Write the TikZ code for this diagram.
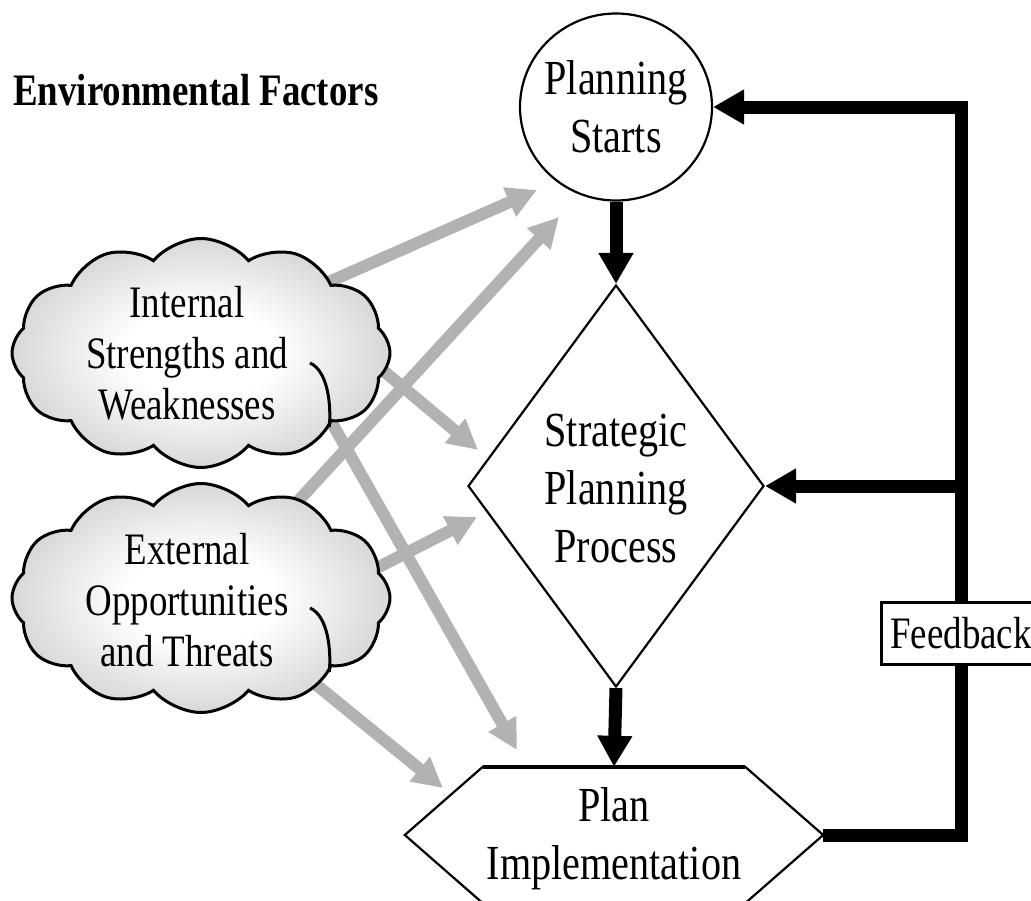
\documentclass[tikz,border=0pt]{standalone}
\usepackage{fontspec}
\setmainfont{Liberation Serif}[FakeStretch=0.82]
\usetikzlibrary{shapes.geometric,shapes.symbols,arrows.meta,calc}
\pgfdeclareradialshading{cloudsh}{\pgfpoint{0bp}{0bp}}{color(0bp)=(white); color(10bp)=(white); color(45bp)=(black!36); color(100bp)=(black!36)}
\pgfdeclarelayer{bg}
\pgfsetlayers{bg,main}
\begin{document}
\begin{tikzpicture}[x=1pt,y=-1pt,
  maintext/.style={font=\fontsize{49}{58}\selectfont, align=center, inner sep=0pt},
  thinline/.style={line width=2.2pt},
  heavy/.style={line width=13pt, -{Triangle[length=31pt,width=33pt]}},
  soft/.style={line width=12pt, color=black!30, -{Triangle[length=30pt,width=30pt]}, shorten <=-14pt},
  cloudbox/.style={cloud, cloud puffs=12, cloud puff arc=100, aspect=1.65, draw, line width=3pt, shading=cloudsh, minimum width=378pt, minimum height=229pt, inner sep=0pt},
  cloudtext/.style={font=\fontsize{45}{51}\selectfont, align=center, inner sep=0pt},
  puffline/.style={line width=3pt}
]
\useasboundingbox (0,0) rectangle (1031,900);
\clip (0,0) rectangle (1031,900);

% title
\node[anchor=base west, font=\bfseries\fontsize{45}{50}\selectfont, inner sep=0pt] (env) at (13,105) {Environmental Factors};

% clouds
\node[cloudbox] (intc) at (201,353) {};
\node[cloudtext] (intt) at (187,353) {Internal\\Strengths and\\Weaknesses};
\node[cloudbox] (extc) at (201,598) {};
\node[cloudtext] (extt) at (187,600) {External\\Opportunities\\and Threats};
\draw[puffline] ($(intc.center)+(109,10)$) .. controls +(18,8) and +(2,-22) .. (intc.-30);
\draw[puffline] ($(extc.center)+(109,10)$) .. controls +(18,8) and +(2,-22) .. (extc.-30);

% main flow
\node[thinline, draw, ellipse, minimum width=192pt, minimum height=187pt, inner sep=0pt,
      label={[maintext]center:Planning\\Starts}] (start) at (616,107) {};
\node[thinline, draw, diamond, minimum width=296pt, minimum height=402pt, inner sep=0pt,
      label={[maintext, yshift=-3pt]center:Strategic\\Planning\\Process}] (strat) at (616,486) {};
\node[minimum width=418pt, minimum height=136pt, inner sep=0pt,
      label={[maintext, yshift=-4pt]center:Plan\\Implementation}] (impl) at (614,835) {};
\draw[thinline] ($(impl.north west)+(78,0)$) -- ($(impl.north east)+(-78,0)$) -- (impl.east)
   -- ($(impl.south east)+(-78,0)$) -- ($(impl.south west)+(78,0)$) -- (impl.west) -- cycle;
\draw[line width=3.5pt] ($(impl.north west)+(78,0)$) -- ($(impl.north east)+(-78,0)$);

\draw[heavy] (start.south) -- (strat.north);
\draw[heavy] (strat.south) -- (impl.north);

% feedback loop
\coordinate (fbx) at (961,0);
\draw[heavy] (impl.east) -| (fbx |- start.east) -- (start.east);
\draw[heavy] (fbx |- strat.east) -- (strat.east);
\node[draw, fill=white, line width=3pt, minimum width=160pt, minimum height=62pt, inner sep=0pt,
      font=\fontsize{45}{50}\selectfont] (fb) at (961,633) {Feedback};

% environmental influence arrows
\coordinate (tipA) at (537,190);
\coordinate (tipB) at (559,217);
\coordinate (tipC) at (478,450);
\coordinate (tipD) at (477,517);
\coordinate (tipE) at (517,750);
\coordinate (tipF) at (443,788);
\begin{pgfonlayer}{bg}
\draw[soft] (intc.29) -- (tipA);
\draw[soft] (extc.45) -- (tipB);
\draw[soft] (intc.-6) -- (tipC);
\draw[soft] (extc.10) -- (tipD);
\draw[soft] (intc.-28) -- (tipE);
\draw[soft] (extc.-37) -- (tipF);
\end{pgfonlayer}
\end{tikzpicture}
\end{document}
